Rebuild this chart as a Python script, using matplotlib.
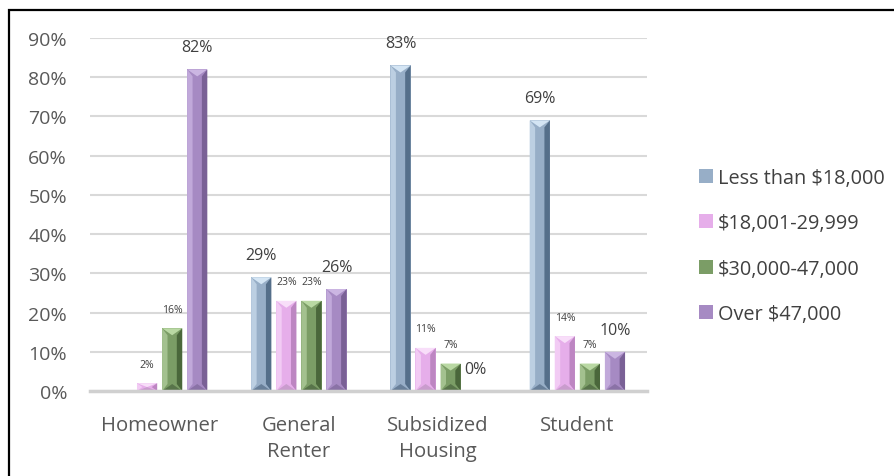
import numpy as np
import matplotlib
matplotlib.use("Agg")
import matplotlib.pyplot as plt
from matplotlib.patches import Polygon, Rectangle
from matplotlib.ticker import FuncFormatter

plt.rcParams['font.family'] = ['Open Sans', 'DejaVu Sans']

# housing type vs. household income share (%)
categories = ['Homeowner', 'General\nRenter', 'Subsidized\nHousing', 'Student']
series = ['Less than $18,000', '$18,001-29,999', '$30,000-47,000', 'Over $47,000']
less_18k = [np.nan, 29, 83, 69]
mid_18_30k = [2, 23, 11, 14]
mid_30_47k = [16, 23, 7, 7]
over_47k = [82, 26, 0, 10]
yticks = [0, 10, 20, 30, 40, 50, 60, 70, 80, 90]

# label sizes: big or small, per series per category
label_big = [
    [False, True, True, True],
    [False, False, False, False],
    [False, False, False, False],
    [True, True, True, True],
]

# (face, light side, dark side, top cap, bottom cap)
palettes = [
    ('#97aec7', '#bccfe2', '#556f8a', '#d4e5f4', '#687f99'),
    ('#e6aeea', '#f2cbf4', '#bd86c2', '#f8def9', '#c99ccd'),
    ('#7b9d66', '#a3c18f', '#4a673b', '#b9d8a3', '#58744a'),
    ('#a68ac3', '#c1a9da', '#7a6196', '#cbb6e2', '#8a72a6'),
]

values = [less_18k, mid_18_30k, mid_30_47k, over_47k]

fig = plt.figure(figsize=(8.95, 4.77), dpi=100)
ax = fig.add_axes([90 / 895, 1 - 392 / 477, 557 / 895, 353 / 477])

x = np.arange(len(categories))
pitch = 0.18
width = 0.145
ymax = 90
px_y = ymax / 353.0  # data units per pixel vertically

for i, (name, vals, pal) in enumerate(zip(series, values, palettes)):
    pos = x + pitch * (i - 1.5)
    bars = ax.bar(pos, vals, width, color=pal[0], label=name, zorder=3,
                  linewidth=0)
    for j, rect in enumerate(bars.patches):
        v = vals[j]
        if np.isnan(v):
            continue
        x0, w, h = rect.get_x(), rect.get_width(), rect.get_height()
        bx = w * 0.27
        by = min(7 * px_y, h / 2)
        xm = x0 + w / 2
        if h > 0:
            shapes = [
                ([(x0, 0), (x0 + bx, by), (x0 + bx, h - by), (x0, h)], pal[1]),
                ([(x0 + w, 0), (x0 + w - bx, by), (x0 + w - bx, h - by),
                  (x0 + w, h)], pal[2]),
                ([(x0, h), (x0 + w, h), (xm, h - by)], pal[3]),
                ([(x0, 0), (x0 + w, 0), (xm, by)], pal[4]),
            ]
            for pts, c in shapes:
                ax.add_patch(Polygon(pts, closed=True, facecolor=c,
                                     edgecolor='none', zorder=4))
        big = label_big[i][j]
        ax.annotate(f'{v:.0f}%', (xm, h), xytext=(0, 22 if big else 19),
                    textcoords='offset pixels', ha='center', va='center',
                    fontsize=11.5 if big else 7.5, color='#404040', zorder=5)

ax.set_xlim(-0.5, len(categories) - 0.5)
ax.set_ylim(0, ymax)
ax.set_yticks(yticks)
ax.yaxis.set_major_formatter(FuncFormatter(lambda v, p: f'{v:.0f}%'))
ax.set_xticks(x)
ax.set_xticklabels(categories, linespacing=1.45)
ax.tick_params(axis='y', length=0, labelsize=14, colors='#595959', pad=16.5)
ax.tick_params(axis='x', length=0, labelsize=14.6, colors='#595959', pad=17)
ax.grid(axis='y', color='#d9d9d9', linewidth=1.5, zorder=0)
ax.set_axisbelow(True)
for s in ['left', 'right', 'top']:
    ax.spines[s].set_visible(False)
ax.spines['bottom'].set_color('#d0d0d0')
ax.spines['bottom'].set_linewidth(2.5)
ax.spines['bottom'].set_zorder(6)

ax.legend(loc='center left', bbox_to_anchor=(689 / 895, 1 - 247 / 477),
          bbox_transform=fig.transFigure, frameon=False, fontsize=14.3,
          handlelength=0.7, handleheight=0.7, handletextpad=0.25,
          labelspacing=1.28, borderpad=0, labelcolor='#404040')

# outer frame
fig.patches.append(Rectangle((9 / 895, -0.05), 1.0, 1 - 11 / 477 + 0.05,
                             transform=fig.transFigure, fill=False,
                             edgecolor='black', linewidth=1.6))

fig.savefig('out.png', dpi=100)
